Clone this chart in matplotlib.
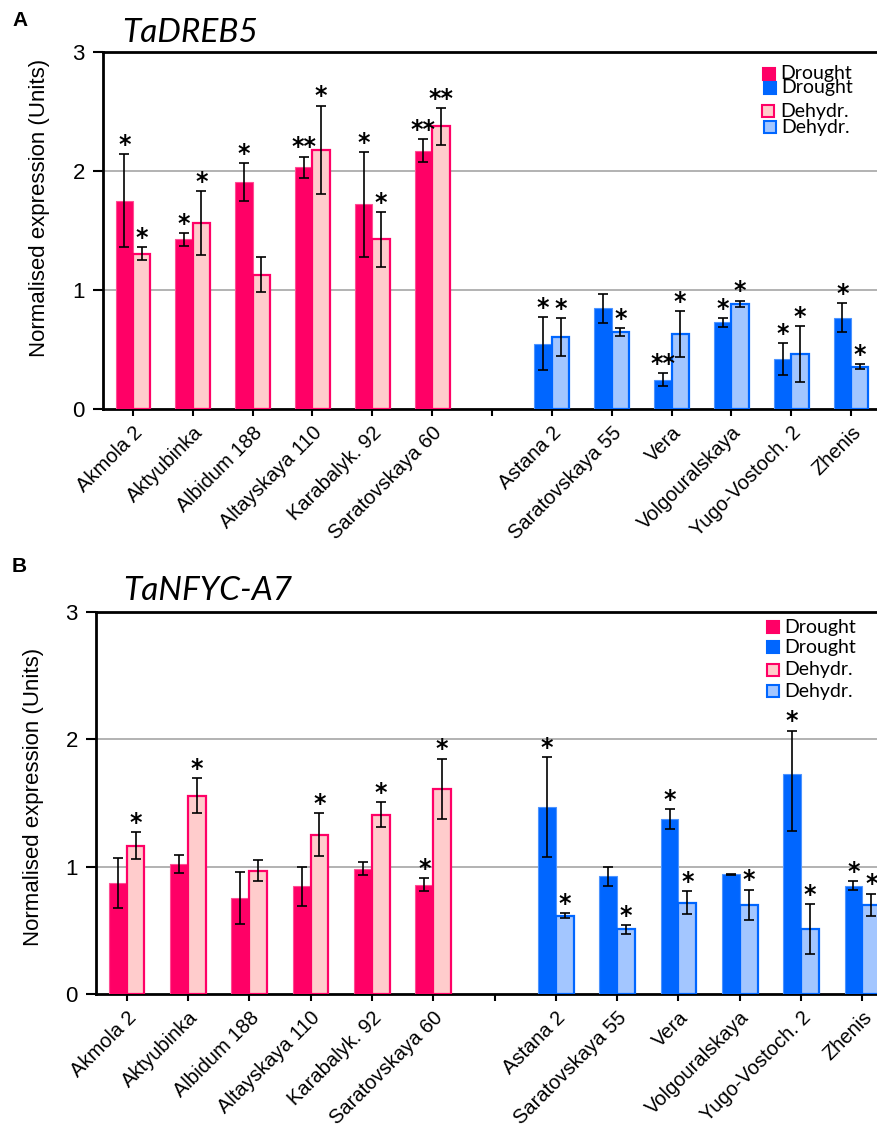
import matplotlib
matplotlib.use('Agg')
import matplotlib.pyplot as plt
from matplotlib.patches import Rectangle
import numpy as np

# cultivars (6 tolerant = pink, 6 sensitive = blue)
pink_names = ['Akmola 2', 'Aktyubinka', 'Albidum 188', 'Altayskaya 110',
              'Karabalyk. 92', 'Saratovskaya 60']
blue_names = ['Astana 2', 'Saratovskaya 55', 'Vera', 'Volgouralskaya',
              'Yugo-Vostoch. 2', 'Zhenis']

# panel A: TaDREB5
a_pink_dro = [1.75, 1.425, 1.905, 2.03, 1.72, 2.17]
a_pink_dro_err = [0.39, 0.055, 0.16, 0.09, 0.44, 0.095]
a_pink_deh = [1.305, 1.56, 1.13, 2.18, 1.425, 2.375]
a_pink_deh_err = [0.055, 0.27, 0.145, 0.37, 0.23, 0.155]
a_blue_dro = [0.55, 0.845, 0.245, 0.727, 0.417, 0.768]
a_blue_dro_err = [0.225, 0.125, 0.055, 0.04, 0.135, 0.125]
a_blue_deh = [0.606, 0.648, 0.63, 0.883, 0.464, 0.355]
a_blue_deh_err = [0.16, 0.035, 0.19, 0.027, 0.235, 0.022]
a_pink_dro_sig = ['*', '*', '*', '**', '*', '**']
a_pink_deh_sig = ['*', '*', '', '*', '*', '**']
a_blue_dro_sig = ['*', '', '**', '*', '*', '*']
a_blue_deh_sig = ['*', '*', '*', '*', '*', '*']

# panel B: TaNFYC-A7
b_pink_dro = [0.87, 1.02, 0.752, 0.846, 0.985, 0.859]
b_pink_dro_err = [0.195, 0.07, 0.205, 0.155, 0.05, 0.05]
b_pink_deh = [1.165, 1.558, 0.969, 1.25, 1.408, 1.613]
b_pink_deh_err = [0.105, 0.137, 0.085, 0.17, 0.1, 0.235]
b_blue_dro = [1.467, 0.925, 1.372, 0.94, 1.728, 0.851]
b_blue_dro_err_lo = [0.395, 0.075, 0.08, 0.005, 0.45, 0.035]
b_blue_dro_err_hi = [0.395, 0.075, 0.08, 0.005, 0.34, 0.035]
b_blue_deh = [0.615, 0.508, 0.717, 0.70, 0.508, 0.70]
b_blue_deh_err = [0.02, 0.035, 0.09, 0.12, 0.195, 0.088]
b_pink_dro_sig = ['', '', '', '', '', '*']
b_pink_deh_sig = ['*', '*', '', '*', '*', '*']
b_blue_dro_sig = ['*', '', '*', '', '*', '*']
b_blue_deh_sig = ['*', '*', '*', '*', '*', '*']

PINK = '#ff0066'
PINK_L = '#ffcccc'
BLUE = '#0066ff'
BLUE_L = '#a3c6ff'

W, H = 877, 1130
fig = plt.figure(figsize=(W / 100, H / 100), dpi=100)


def px(x0, y0, x1, y1):
    # pixel box (top-left origin) -> figure fraction rect
    return [x0 / W, 1 - y1 / H, (x1 - x0) / W, (y1 - y0) / H]


def stars(ax, xs, tops, sig):
    for x, t, s in zip(xs, tops, sig):
        if s:
            ax.annotate(s, (x, t), xytext=(0, -2), textcoords='offset points',
                        ha='center', va='bottom', fontsize=17,
                        fontweight='bold', family='DejaVu Sans')


def panel(box, pdro, pdro_e, pdeh, pdeh_e, bdro, bdro_e, bdeh, bdeh_e, sigs):
    ax = fig.add_axes(px(*box))
    bw = 0.29
    xp = np.arange(6)
    xb = np.arange(7, 13)
    ek = dict(ecolor='black', elinewidth=1.2, capsize=3.5, capthick=1.2)
    ax.bar(xp - bw / 2, pdro, bw, color=PINK, edgecolor='#ff4d94', lw=0.8,
           yerr=pdro_e, error_kw=ek, zorder=3)
    ax.bar(xp + bw / 2, pdeh, bw, color=PINK_L, edgecolor=PINK, lw=1.6,
           yerr=pdeh_e, error_kw=ek, zorder=3)
    ax.bar(xb - bw / 2, bdro, bw, color=BLUE, edgecolor='#4d94ff', lw=0.8,
           yerr=bdro_e, error_kw=ek, zorder=3)
    ax.bar(xb + bw / 2, bdeh, bw, color=BLUE_L, edgecolor=BLUE, lw=1.6,
           yerr=bdeh_e, error_kw=ek, zorder=3)

    def top(v, e):
        e = np.asarray(e)
        if e.ndim == 2:
            e = e[1]
        return np.asarray(v) + e

    stars(ax, xp - bw / 2, top(pdro, pdro_e), sigs[0])
    stars(ax, xp + bw / 2, top(pdeh, pdeh_e), sigs[1])
    stars(ax, xb - bw / 2, top(bdro, bdro_e), sigs[2])
    stars(ax, xb + bw / 2, top(bdeh, bdeh_e), sigs[3])

    ax.set_xlim(-0.5, 12.5)
    ax.set_ylim(0, 3)
    ax.set_yticks([0, 1, 2, 3])
    ax.set_yticklabels(['0', '1', '2', '3'], fontsize=16,
                       family='Liberation Sans')
    ax.set_xticks(np.arange(13))
    ax.set_xticklabels(pink_names + [''] + blue_names, rotation=45,
                       ha='right', rotation_mode='anchor', fontsize=14.5,
                       family='Liberation Sans')
    ax.tick_params(axis='y', length=7, width=1.5, pad=6)
    ax.tick_params(axis='x', length=5, width=1.5, pad=5)
    for y in (1, 2):
        ax.axhline(y, color='#a6a6a6', lw=1.2, zorder=1)
    for s in ('left', 'bottom', 'top'):
        ax.spines[s].set_linewidth(2)
    ax.spines['right'].set_visible(False)
    return ax


panel((103, 52, 881, 409),
      a_pink_dro, a_pink_dro_err, a_pink_deh, a_pink_deh_err,
      a_blue_dro, a_blue_dro_err, a_blue_deh, a_blue_deh_err,
      [a_pink_dro_sig, a_pink_deh_sig, a_blue_dro_sig, a_blue_deh_sig])

panel((96, 612, 893, 994),
      b_pink_dro, b_pink_dro_err, b_pink_deh, b_pink_deh_err,
      b_blue_dro, [b_blue_dro_err_lo, b_blue_dro_err_hi],
      b_blue_deh, b_blue_deh_err,
      [b_pink_dro_sig, b_pink_deh_sig, b_blue_dro_sig, b_blue_deh_sig])

# titles, panel letters, y labels
fig.text(122 / W, 1 - 42 / H, 'TaDREB5', fontsize=24, style='italic',
         family='Lato', va='baseline')
fig.text(123 / W, 1 - 600 / H, 'TaNFYC-A7', fontsize=24, style='italic',
         family='Lato', va='baseline')
fig.text(12 / W, 1 - 26 / H, 'A', fontsize=15, fontweight='bold',
         family='Liberation Sans', va='baseline')
fig.text(12 / W, 1 - 572 / H, 'B', fontsize=15, fontweight='bold',
         family='Liberation Sans', va='baseline')
for yc, xc in ((208, 40), (797, 34)):
    fig.text(xc / W, 1 - yc / H, 'Normalised expression (Units)', rotation=90,
             fontsize=16, family='Liberation Sans', ha='center', va='center')

# legends (drawn by hand, first panel entries crowd together as in the original)
leg_a = [((763, 68), PINK, PINK, 'Drought', 780),
         ((764, 82), BLUE, BLUE, 'Drought', 781),
         ((762, 105), PINK_L, PINK, 'Dehydr.', 780),
         ((764, 121), BLUE_L, BLUE, 'Dehydr.', 781)]
leg_b = [((767, 621), PINK, PINK, 'Drought', 784),
         ((767, 641), BLUE, BLUE, 'Drought', 784),
         ((767, 664), PINK_L, PINK, 'Dehydr.', 784),
         ((767, 685), BLUE_L, BLUE, 'Dehydr.', 784)]
for (x0, y0), fc, ec, lab, tx in leg_a + leg_b:
    fig.patches.append(Rectangle((x0 / W, 1 - (y0 + 12) / H), 12 / W, 12 / H,
                                 transform=fig.transFigure, fc=fc, ec=ec,
                                 lw=1.5))
    fig.text(tx / W, 1 - (y0 + 6) / H, lab, fontsize=14, family='Lato',
             va='center', ha='left')

fig.savefig('out.png', dpi=100)
